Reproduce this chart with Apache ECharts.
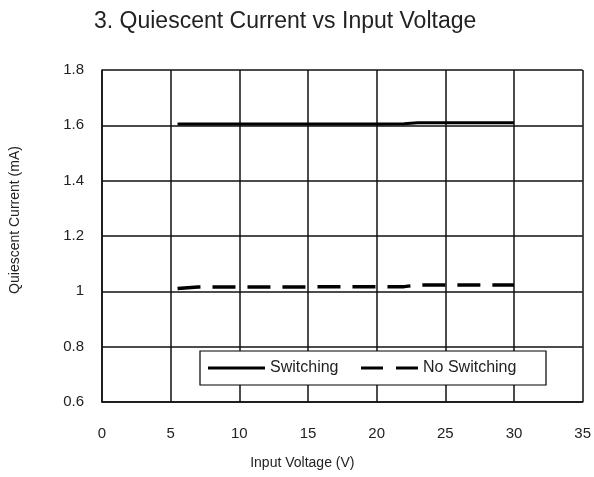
<!DOCTYPE html>
<html>
<head>
<meta charset="utf-8">
<script src="https://cdn.jsdelivr.net/npm/echarts@6/dist/echarts.min.js"></script>
<style>
  html, body { margin: 0; padding: 0; background: #fff; }
  #chart { width: 594px; height: 477px; }
</style>
</head>
<body>
<div id="chart"></div>
<script>
// 数据：输入电压 (V) / 静态电流 (mA)
const switchingV = [5.5, 7, 10, 15, 20, 22, 23, 25, 30]
const switchingI = [1.605, 1.605, 1.605, 1.605, 1.605, 1.606, 1.609, 1.609, 1.609]
const noSwitchingV = [5.5, 7, 10, 15, 20, 22, 23, 25, 30]
const noSwitchingI = [1.01, 1.016, 1.016, 1.016, 1.017, 1.017, 1.023, 1.023, 1.023]
const xTicks = [0, 5, 10, 15, 20, 25, 30, 35]
const yTicks = [0.6, 0.8, 1, 1.2, 1.4, 1.6, 1.8]

const pair = (xs, ys) => xs.map((x, i) => [x, ys[i]])

const chart = echarts.init(document.getElementById("chart"))

const font = "Liberation Sans, Arial, sans-serif"

// 图例图标：实线 / 虚线
const solidIcon = "path://M0,0L57,0L57,3L0,3Z"
const dashIcon = "path://M0,0L22,0L22,3L0,3Z M35,0L57,0L57,3L35,3Z"

const option = {
  animation: false,
  title: {
    text: "3. Quiescent Current vs Input Voltage",
    left: 89,
    top: 5,
    textStyle: { color: "#222", fontSize: 23, fontWeight: "normal", fontFamily: font },
  },
  legend: {
    left: 200,
    top: 351,
    padding: [9, 12, 9, 8],
    itemGap: 11,
    itemWidth: 57,
    itemHeight: 3,
    symbolKeepAspect: false,
    borderColor: "#000",
    borderWidth: 1.2,
    backgroundColor: "#fff",
    formatter: (name) => (name === "Switching" ? "{a|" + name + "}" : "{b|" + name + "}"),
    textStyle: {
      color: "#222",
      fontSize: 16,
      fontFamily: font,
      rich: {
        a: { width: 80, fontSize: 16, color: "#222", fontFamily: font, backgroundColor: "#fff" },
        b: { width: 111, fontSize: 16, color: "#222", fontFamily: font, backgroundColor: "#fff" },
      },
    },
    data: [
      { name: "Switching", icon: solidIcon },
      { name: "No Switching", icon: dashIcon },
    ],
  },
  grid: { left: 100, right: 10, top: 70, bottom: 75 },
  xAxis: {
    type: "value",
    min: xTicks[0],
    max: xTicks[xTicks.length - 1],
    interval: 5,
    name: "Input Voltage (V)",
    nameLocation: "middle",
    nameGap: 54,
    nameTextStyle: { color: "#222", fontSize: 14, fontFamily: font, padding: [0, 80, 0, 0] },
    axisLine: { show: true, lineStyle: { color: "#111", width: 1.5 } },
    axisTick: { show: false },
    axisLabel: { color: "#222", fontSize: 15, margin: 24, fontFamily: font },
    splitLine: { show: true, lineStyle: { color: "#111", width: 1.5 } },
  },
  yAxis: {
    type: "value",
    min: yTicks[0],
    max: yTicks[yTicks.length - 1],
    interval: 0.2,
    name: "Quiescent Current (mA)",
    nameLocation: "middle",
    nameGap: 80,
    nameTextStyle: { color: "#222", fontSize: 14, fontFamily: font, padding: [0, 0, 0, 32] },
    axisLine: { show: true, lineStyle: { color: "#111", width: 1.5 } },
    axisTick: { show: false },
    axisLabel: { color: "#222", fontSize: 15, margin: 18, fontFamily: font },
    splitLine: { show: true, lineStyle: { color: "#111", width: 1.5 } },
  },
  series: [
    {
      name: "Switching",
      type: "line",
      data: pair(switchingV, switchingI),
      symbol: "none",
      color: "#000",
      lineStyle: { color: "#000", width: 3 },
    },
    {
      name: "No Switching",
      type: "line",
      data: pair(noSwitchingV, noSwitchingI),
      symbol: "none",
      color: "#000",
      lineStyle: { color: "#000", width: 3.5, type: [23, 12] },
    },
  ],
}

chart.setOption(option)
</script>
</body>
</html>
